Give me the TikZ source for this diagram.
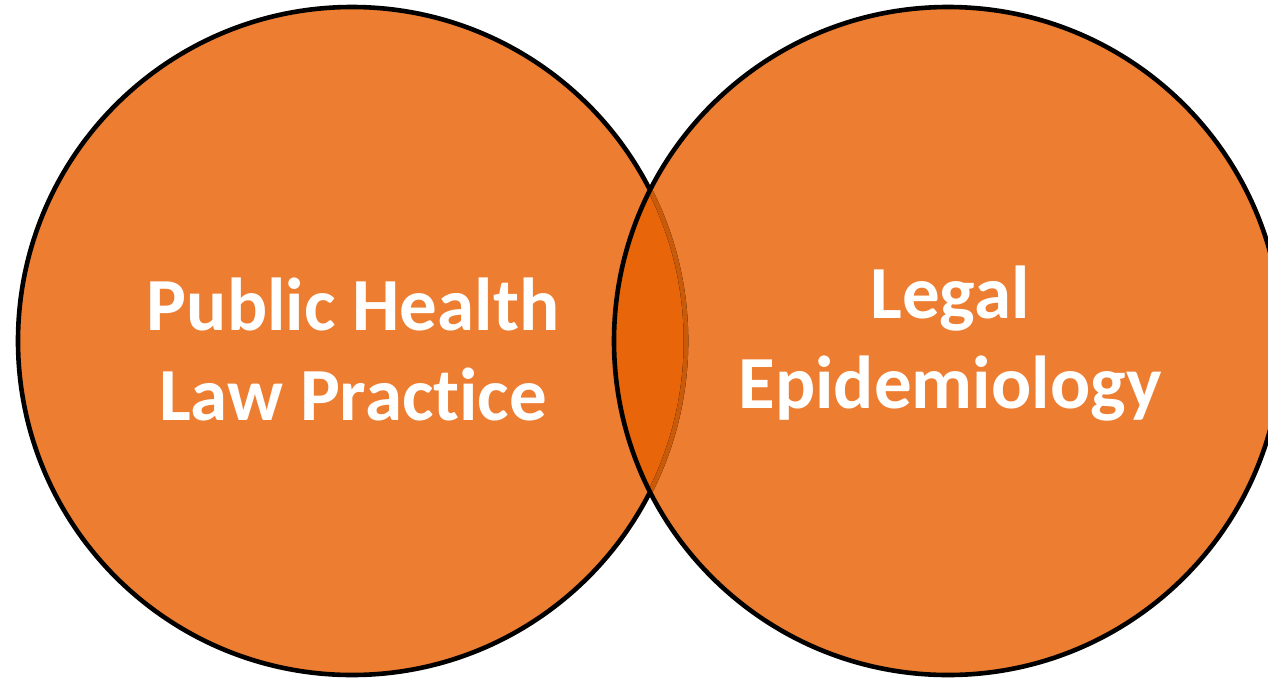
\documentclass[tikz,border=0pt]{standalone}
\usepackage{fontspec}
\setmainfont[Ligatures=NoCommon]{Carlito}
\definecolor{venn}{HTML}{ED7D31}
\definecolor{lens}{HTML}{E8650A}
\definecolor{lensedge}{HTML}{C85A0A}
\begin{document}
\begin{tikzpicture}[x=1pt,y=-1pt,
  ring/.style={line width=4.6pt},
  label/.style={text=white,font=\fontsize{75}{90}\selectfont\bfseries,anchor=base,inner sep=0pt}]
\useasboundingbox (0,0) rectangle (1268,681);
\clip (0,0) rectangle (1268,681);
% circle centres and radius
\coordinate (cl) at (352,341);
\coordinate (cr) at (948,341);
\def\rad{334pt}
% fills
\fill[venn] (cl) circle[radius=\rad];
\fill[venn] (cr) circle[radius=\rad];
% overlapping lens
\begin{scope}
  \clip (cl) circle[radius=\rad];
  \fill[lens] (cr) circle[radius=\rad];
\end{scope}
% outline of the left circle, softened where the right circle covers it
\draw[ring] (cl) circle[radius=\rad];
\begin{scope}
  \clip (cr) circle[radius=\rad];
  \draw[ring,lensedge] (cl) circle[radius=\rad];
\end{scope}
\draw[ring] (cr) circle[radius=\rad];
% labels
\node[label] (pl1) at (353,330) {Public Health};
\node[label] (pl2) at (353,420) {Law Practice};
\node[label] (le1) at (950,318) {Legal};
\node[label] (le2) at (950,408) {Epidemiology};
\end{tikzpicture}
\end{document}
